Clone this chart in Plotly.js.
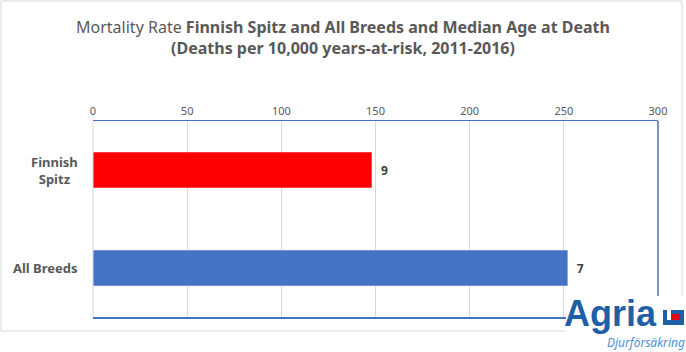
<!DOCTYPE html>
<html><head><meta charset="utf-8">
<script src="https://cdn.plot.ly/plotly-3.0.1.min.js"></script>
<style>body{margin:0;background:#fff}#chart{width:686px;height:352px}</style>
</head><body><div id="chart"></div>
<script>
const categories = ["Finnish Spitz", "All Breeds"];
const categoryLabels = ["Finnish<br>Spitz", "All Breeds"];
const mortalityRate = [148, 252];
const medianAge = ["9", "7"];
const barColors = ["#ff0000", "#4472c4"];
const xTicks = [0, 50, 100, 150, 200, 250, 300];

const W = 565, H = 196; // plot area size in px, used for paper-coordinate placement
const px = v => (v - 93) / W;
const py = v => (317 - v) / H;

const trace = {
  type: "bar", orientation: "h",
  y: categories, x: mortalityRate,
  marker: {color: barColors},
  width: 0.36,
  text: medianAge, texttemplate: "\u00a0\u00a0%{text}", textposition: "outside",
  textfont: {family: "Noto Sans", size: 12, color: "#404040", weight: "bold"},
  cliponaxis: false, hoverinfo: "none"
};
const catAnnotations = categories.map((c, i) => ({
  xref: "paper", yref: "y", x: px(80), y: c, xanchor: "right", yanchor: "middle",
  align: "center", showarrow: false, text: "<b>" + categoryLabels[i] + "</b>",
  font: {family: "Noto Sans", size: 13, color: "#595959"}
}));
const layout = {
  width: 686, height: 352,
  margin: {l: 93, r: 28, t: 121, b: 35},
  paper_bgcolor: "#fff", plot_bgcolor: "#fff",
  showlegend: false,
  title: {
    text: "<span style='font-weight:normal'>Mortality Rate</span> <b>Finnish Spitz and All Breeds and Median Age at Death</b><br><b>(Deaths per 10,000 years-at-risk, 2011-2016)</b>",
    font: {family: "Noto Sans", size: 16, color: "#595959"},
    x: 0.5, xref: "container", xanchor: "center", yref: "container", y: 0.905, yanchor: "top"
  },
  xaxis: {
    side: "top", range: [0, 300], tickvals: xTicks, ticktext: xTicks.map(String),
    showgrid: true, gridcolor: "#d9d9d9", gridwidth: 1, zeroline: false,
    showline: true, mirror: true, linecolor: "#4472c4", linewidth: 1.5,
    ticks: "", ticklen: 0, tickfont: {family: "Noto Sans", size: 11, color: "#595959"},
    fixedrange: true
  },
  yaxis: {
    autorange: "reversed", showgrid: false, zeroline: false, showline: false,
    ticks: "", showticklabels: false, fixedrange: true
  },
  shapes: [
    {type: "line", xref: "paper", yref: "paper", x0: 1, x1: 1, y0: 0, y1: 1, line: {color: "#4472c4", width: 1.5}},
    {type: "line", xref: "paper", yref: "paper", x0: 0, x1: 0, y0: 0, y1: 1, line: {color: "#d9d9d9", width: 1}},
    {type: "rect", xref: "paper", yref: "paper", x0: px(1), x1: px(682), y0: py(1), y1: py(331), line: {color: "#d9d9d9", width: 1}, fillcolor: "rgba(0,0,0,0)"},
    {type: "rect", xref: "paper", yref: "paper", x0: px(566), x1: px(686), y0: py(296), y1: py(352), line: {width: 0}, fillcolor: "#ffffff"},
    {type: "rect", xref: "paper", yref: "paper", x0: px(663), x1: px(684), y0: py(310), y1: py(325), line: {width: 0}, fillcolor: "#1f5fa8"},
    {type: "rect", xref: "paper", yref: "paper", x0: px(667), x1: px(671), y0: py(310), y1: py(320), line: {width: 0}, fillcolor: "#ffffff"},
    {type: "rect", xref: "paper", yref: "paper", x0: px(671.5), x1: px(680), y0: py(314), y1: py(320), line: {width: 0}, fillcolor: "#e30613"}
  ],
  annotations: catAnnotations.concat([
    {xref: "paper", yref: "paper", x: px(659), y: py(313), xanchor: "right", yanchor: "middle", showarrow: false,
     text: "<b>Agria</b>", font: {family: "Liberation Sans", size: 36, color: "#1f5fa8"}},
    {xref: "paper", yref: "paper", x: px(687), y: py(342), xanchor: "right", yanchor: "middle", showarrow: false,
     text: "<i>Djurförsäkring</i>", font: {family: "Noto Sans", size: 12, color: "#4a90d9"}}
  ])
};
Plotly.newPlot("chart", [trace], layout, {displayModeBar: false, staticPlot: true});
</script></body></html>
